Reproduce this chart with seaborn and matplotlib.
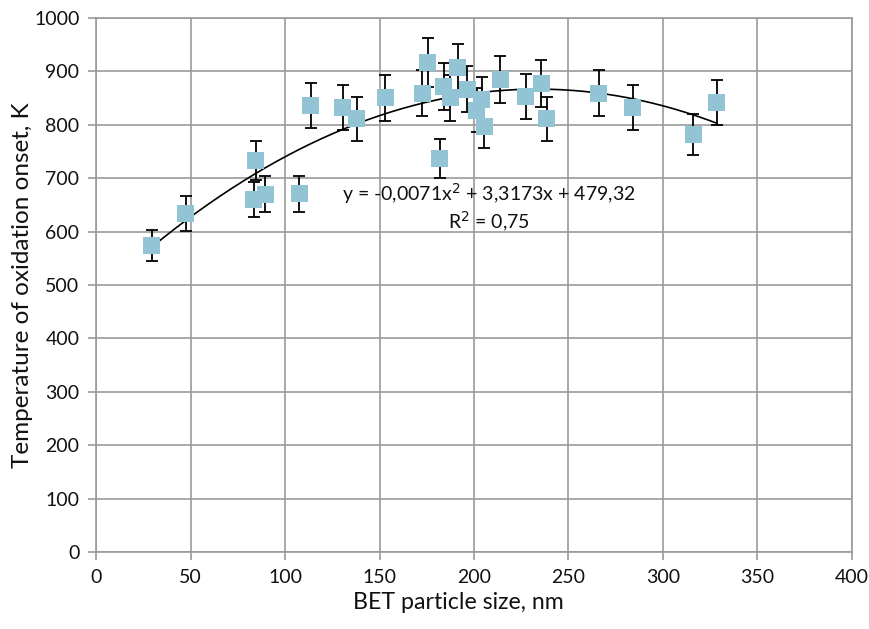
import numpy as np
import pandas as pd
import matplotlib
matplotlib.use("Agg")
import matplotlib.pyplot as plt
import seaborn as sns

# Data
size_nm = [29.5, 47.5, 83.5, 84.5, 89.5, 107.5, 113.5, 130.5, 138.0, 153.0,
           172.5, 175.5, 182.0, 184.0, 187.5, 191.5, 196.5, 201.5, 204.0, 205.5,
           214.0, 227.5, 235.5, 238.5, 266.0, 284.0, 316.0, 328.5]
temp_K = [574, 634, 660, 733, 670, 671, 836, 832, 811, 851,
          859, 916, 737, 872, 851, 907, 867, 827, 848, 796,
          885, 853, 877, 811, 859, 832, 782, 842]
err_K = [29, 32, 33, 37, 34, 34, 42, 42, 41, 43,
         43, 46, 37, 44, 43, 45, 43, 41, 42, 40,
         44, 43, 44, 41, 43, 42, 39, 42]
# Polynomial trendline coefficients (shown on chart)
poly_coef = [-0.0071, 3.3173, 479.32]
fit_range = [29.5, 328.5]

df = pd.DataFrame({"size": size_nm, "temp": temp_K, "err": err_K})

sns.set_theme(style="white")
plt.rcParams['font.family'] = ['Lato', 'DejaVu Sans']

fig = plt.figure(figsize=(8.69, 6.29), dpi=100)
ax = fig.add_axes([0.1105, 0.1224, 0.8699, 0.849])

grid_c = "#9a9a9a"
ax.set_xlim(0, 400)
ax.set_ylim(0, 1000)
ax.set_xticks(np.arange(0, 401, 50))
ax.set_yticks(np.arange(0, 1001, 100))
ax.grid(True, color=grid_c, linewidth=1.2)
ax.set_axisbelow(True)
for s in ax.spines.values():
    s.set_color(grid_c)
    s.set_linewidth(1.2)
ax.tick_params(axis='both', which='major', length=6, width=1.2, color=grid_c,
               labelsize=14, labelcolor="#111111", direction='out',
               bottom=True, left=True, pad=6)

# trendline
xs = np.linspace(fit_range[0], fit_range[1], 200)
ax.plot(xs, np.polyval(poly_coef, xs), color="black", linewidth=1.2, zorder=2)

# error bars
ax.errorbar(df["size"], df["temp"], yerr=df["err"], fmt='none', ecolor="black",
            elinewidth=1.3, capsize=4, capthick=1.3, zorder=3)

sns.scatterplot(data=df, x="size", y="temp", marker="s", s=150,
                color="#92C4D6", edgecolor="none", linewidth=0, ax=ax, zorder=4)

xl = ax.set_xlabel("BET particle size, nm", fontsize=15, color="#111111")
yl = ax.set_ylabel("Temperature of oxidation onset, K", fontsize=15, color="#111111")

# scale label fonts to the reference's text lengths (pixels)
fig.canvas.draw()
r = fig.canvas.get_renderer()
wx = xl.get_window_extent(r).width
hy = yl.get_window_extent(r).height
xl.set_fontsize(15 * 211 / wx)
yl.set_fontsize(15 * 365 / hy)
ax.xaxis.set_label_coords(0.479, -0.075)
ax.yaxis.set_label_coords(-0.083, 0.5)

ax.text(208, 671, "y = -0,0071x$^{2}$ + 3,3173x + 479,32", ha="center", va="center",
        fontsize=14, color="#111111", zorder=5)
ax.text(208, 618, "R$^{2}$ = 0,75", ha="center", va="center",
        fontsize=14, color="#111111", zorder=5)

fig.savefig("out.png", dpi=100)
